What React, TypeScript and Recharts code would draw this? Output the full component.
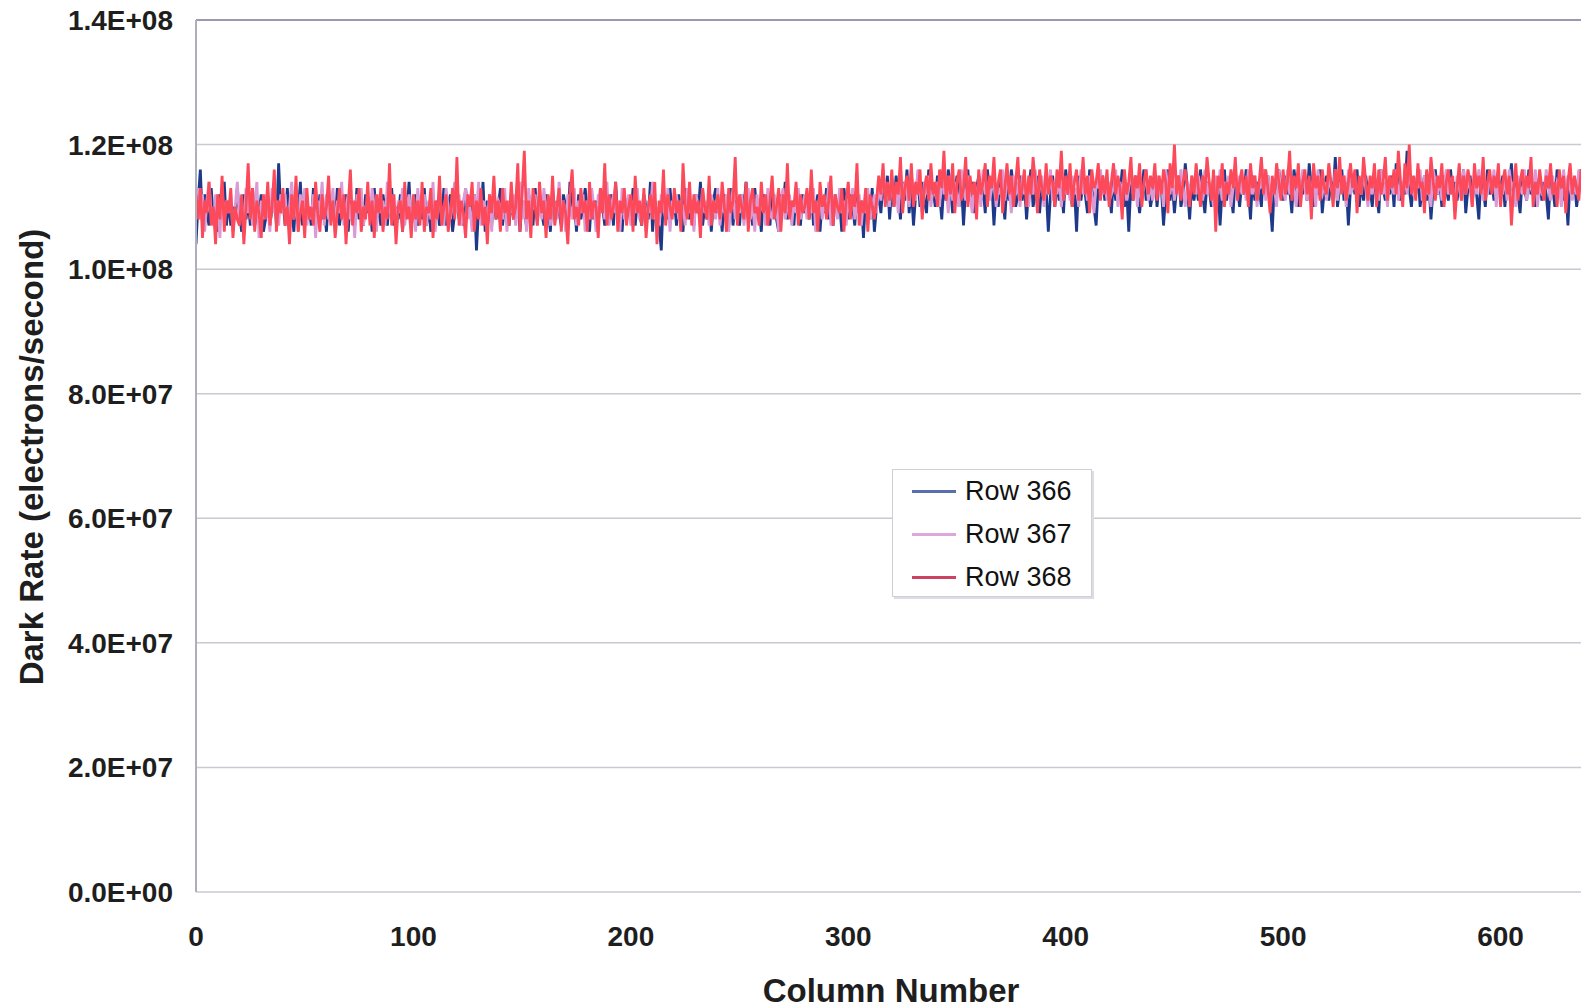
import React from "react";
import { LineChart, Line, XAxis, YAxis, CartesianGrid, ReferenceLine } from "recharts";

// column ticks and dark rate ticks
const columnTicks = [0, 100, 200, 300, 400, 500, 600];
const rateTicks = [0, 2e7, 4e7, 6e7, 8e7, 1e8, 1.2e8, 1.4e8];

// dark rate per column, in units of 1e6 electrons/second
const row366 = [
  104,111,116,107,112,109,107,113,108,110,106,112,109,114,107,111,107,110,108,113,
  109,106,112,108,111,107,113,107,110,109,112,106,108,111,107,110,113,107,117,109,
  111,107,113,108,110,106,112,109,114,107,111,108,110,107,113,107,109,112,108,110,
  106,112,109,111,107,113,107,110,108,112,106,111,109,107,113,108,110,107,112,109,
  111,106,113,108,110,107,112,109,107,111,113,107,110,108,112,106,111,109,114,107,
  109,112,107,111,108,113,107,110,106,112,109,111,107,108,113,107,110,112,106,109,
  112,108,110,107,113,109,111,107,112,103,110,108,114,106,111,109,107,112,108,110,
  113,107,111,109,107,112,108,110,113,106,111,109,107,112,110,107,113,108,111,109,
  107,112,110,106,113,108,111,109,107,112,110,107,114,109,111,106,112,108,110,113,
  109,106,112,108,111,107,113,110,107,111,109,112,107,114,108,110,106,112,109,111,
  108,113,107,111,109,107,112,110,108,114,106,111,109,107,103,112,110,108,113,109,
  111,107,112,109,106,113,110,108,111,107,112,109,114,107,110,108,112,106,111,113,
  109,111,106,112,110,108,113,107,111,109,107,112,110,114,108,111,107,113,109,110,
  106,112,109,111,107,113,110,108,106,112,110,114,108,111,109,107,113,110,107,112,
  109,111,108,113,107,110,112,106,111,109,113,108,110,107,112,109,111,106,113,110,
  108,112,110,107,113,109,111,105,112,110,108,113,106,110,112,109,114,111,115,108,
  113,110,115,112,108,114,111,116,109,113,107,112,115,110,114,111,109,116,112,113,
  110,115,112,108,114,111,116,113,109,112,115,110,114,107,113,116,111,114,109,113,
  115,111,113,109,116,112,114,107,113,110,115,112,108,114,111,116,113,110,112,115,
  111,114,108,113,116,110,112,115,109,114,111,113,106,112,115,110,114,111,113,109,
  116,112,114,110,113,106,115,111,114,112,109,116,113,110,107,114,112,115,111,113,
  113,109,115,111,114,112,116,110,113,106,114,111,115,112,109,113,116,111,114,110,
  112,115,110,114,113,107,112,116,111,114,109,113,115,110,112,117,113,108,114,111,
  114,111,116,112,109,114,113,110,115,112,114,107,113,116,111,114,112,109,115,113,
  110,114,112,116,113,108,115,111,114,113,110,116,112,115,111,106,114,112,116,113,
  111,115,112,113,109,116,113,110,114,112,115,111,117,113,110,114,112,116,109,113,
  115,111,114,112,118,110,113,116,111,114,107,113,115,112,116,110,114,111,115,112,
  113,110,115,112,109,116,113,111,114,112,115,110,117,113,111,114,112,119,113,110,
  114,112,116,110,113,115,111,114,108,113,116,112,114,110,115,113,111,116,112,114,
  111,114,112,116,109,113,115,111,114,112,108,115,113,110,116,112,114,111,113,115,
  112,115,110,114,113,117,111,114,112,109,115,113,111,116,112,114,110,113,115,111,
  114,112,108,115,113,110,116,112,114,111,113,107,115,112,114,110,113,116,111,113,
];

const row367 = [
  110,113,108,112,106,111,114,109,107,112,110,105,113,108,111,109,112,106,110,114,
  108,111,106,113,109,112,107,110,114,105,111,108,112,110,106,113,109,111,107,112,
  109,112,107,110,114,108,111,106,112,109,113,107,110,108,112,105,111,109,114,107,
  112,108,110,113,106,111,109,114,107,110,112,108,111,105,112,109,113,107,110,111,
  108,113,110,106,112,109,111,107,114,110,108,112,106,111,109,113,107,110,112,108,
  111,106,113,109,110,112,107,111,108,114,106,110,112,109,107,113,110,108,111,114,
  109,112,107,111,113,108,110,106,112,109,114,107,111,110,108,112,106,113,109,111,
  110,108,113,106,111,109,112,107,110,114,108,111,106,113,109,110,112,107,111,108,
  113,109,111,107,112,110,108,114,109,111,106,112,110,108,113,107,111,109,112,106,
  111,108,113,110,106,112,109,111,108,114,107,110,112,109,111,106,113,108,110,112,
  107,111,109,113,108,110,112,106,111,109,114,108,110,107,112,110,108,113,106,111,
  109,112,108,111,110,107,113,109,111,106,112,110,108,113,109,111,107,112,110,108,
  113,107,111,109,112,106,110,113,108,111,109,112,107,110,113,108,111,106,112,109,
  110,111,107,113,109,108,112,110,106,111,113,108,110,112,107,111,109,113,108,110,
  112,108,111,109,113,106,110,112,108,111,109,114,107,110,112,108,113,109,111,107,
  111,109,113,108,110,112,107,111,109,113,108,110,112,109,114,111,116,112,113,110,
  115,112,113,109,116,111,114,112,110,115,113,111,116,112,109,114,112,115,110,113,
  112,114,110,116,112,113,109,115,111,114,112,110,116,113,111,115,112,109,114,112,
  113,110,116,112,114,111,113,115,110,113,112,116,111,114,113,109,115,112,114,110,
  115,112,113,110,114,112,116,111,113,115,110,114,112,116,111,113,112,115,110,114,
  112,114,111,115,112,113,110,116,112,114,111,115,112,109,114,113,116,112,114,111,
  114,112,113,116,110,114,112,115,111,113,116,112,114,110,115,112,113,116,111,114,
  111,113,115,112,114,110,116,113,112,115,111,114,112,116,113,110,114,112,115,113,
  112,115,113,111,116,112,114,113,110,115,112,116,111,114,113,115,110,113,116,112,
  115,112,114,111,116,113,112,115,110,114,113,116,111,115,112,114,113,110,116,112,
  113,111,116,112,114,113,110,115,112,116,113,111,114,112,115,110,116,113,112,114,
  111,115,113,112,116,111,114,113,115,110,116,112,113,115,111,114,112,116,113,110,
  114,112,115,113,111,116,112,114,110,115,113,112,116,111,114,113,115,112,116,113,
  112,114,113,116,111,115,112,113,110,116,114,112,115,111,113,116,112,114,113,110,
  115,113,111,116,112,114,113,110,115,112,116,113,111,114,112,115,113,116,110,114,
  113,112,115,111,116,113,114,110,115,113,112,116,111,114,113,112,116,110,114,112,
  112,116,113,111,115,112,114,113,110,116,112,115,113,111,114,112,116,113,112,115,
];

const row368 = [
  112,108,113,105,111,109,114,107,110,104,112,108,115,106,111,109,113,105,110,108,
  107,112,104,110,117,108,113,106,111,109,105,112,108,114,107,110,116,106,111,109,
  113,107,110,104,112,108,115,106,109,111,105,113,108,110,107,114,109,106,112,108,
  110,115,107,111,105,109,113,108,112,104,110,116,107,111,109,113,106,110,108,114,
  107,111,105,112,109,113,106,110,108,117,107,112,104,110,111,106,114,108,110,105,
  112,108,111,107,114,106,110,109,113,105,111,108,115,107,110,112,106,109,113,108,
  118,107,111,109,105,112,110,114,106,111,108,113,107,110,104,112,109,115,108,111,
  106,113,109,111,107,114,108,110,117,106,112,119,108,111,105,113,110,107,114,109,
  111,105,112,108,115,107,110,113,106,111,109,104,112,116,108,110,107,113,109,111,
  106,114,108,111,110,105,113,109,117,107,112,108,110,114,106,111,109,113,107,110,
  112,106,115,109,111,107,113,105,110,112,108,114,104,111,109,116,107,112,110,108,
  113,109,111,106,117,110,108,114,107,112,109,111,105,113,110,108,115,107,111,109,
  112,108,114,110,106,113,109,111,118,107,112,110,108,114,106,111,113,109,110,107,
  114,109,112,107,111,115,108,110,113,106,112,109,117,108,111,110,114,107,112,109,
  110,113,108,116,109,111,106,114,110,112,108,111,115,107,112,110,109,113,106,111,
  114,108,112,110,117,107,111,109,113,106,112,110,108,111,115,112,117,110,114,111,
  116,110,114,112,118,109,113,115,111,117,110,114,112,116,108,113,115,111,117,112,
  114,110,116,113,119,111,115,112,117,109,114,116,111,113,118,110,115,112,114,108,
  116,112,114,117,110,115,113,118,111,114,116,109,113,117,112,115,110,114,118,111,
  113,116,110,115,112,118,114,109,116,113,111,117,112,115,114,110,116,113,119,111,
  115,112,117,110,114,116,111,113,118,112,115,109,116,113,114,117,111,115,112,116,
  110,114,117,112,115,113,108,116,112,114,118,111,115,113,117,110,114,116,112,115,
  113,117,111,115,112,116,114,109,117,113,120,112,115,111,114,116,113,110,115,112,
  117,113,110,115,112,118,114,111,116,106,115,113,117,110,114,112,116,113,118,111,
  114,116,112,115,110,117,113,115,111,114,118,112,116,113,109,115,112,117,114,111,
  116,112,114,119,111,115,113,117,110,114,116,112,115,108,117,113,115,111,116,113,
  112,117,114,110,116,113,118,112,115,111,114,117,113,116,109,115,112,118,114,111,
  115,113,117,110,116,112,114,118,111,115,113,116,112,119,114,110,117,113,120,112,
  115,111,117,113,114,109,116,112,118,114,111,115,113,117,110,114,116,112,115,108,
  113,117,111,115,112,116,114,110,117,113,115,112,118,111,114,116,112,115,113,117,
  110,114,116,112,115,107,113,117,111,114,116,112,115,113,118,110,114,112,116,113,
  111,115,113,117,112,114,110,116,113,115,109,114,117,112,115,113,111,116,113,114,
];

const seriesNames = ["Row 366", "Row 367", "Row 368"];
const seriesColors = ["#1d3a8a", "#d99ad6", "#fc4a5b"];
const legendColors = ["#5a6fae", "#dca8da", "#cc4463"];

const data = row368.map((_, i) => ({
  col: i,
  r366: row366[i] != null ? row366[i] * 1e6 : null,
  r367: row367[i] != null ? row367[i] * 1e6 : null,
  r368: row368[i] * 1e6,
}));

const FONT = "'Liberation Sans', Arial, Helvetica, sans-serif";

const fmtRate = (v: number) => {
  const [m, e] = v.toExponential(1).split("e");
  const n = parseInt(e, 10);
  return `${m}E${n < 0 ? "-" : "+"}${String(Math.abs(n)).padStart(2, "0")}`;
};

const RateTick = ({ x, y, payload }: any) => (
  <text x={x} y={y} dy={10} textAnchor="end" fontSize={28} fontWeight={700} fill="#1e1e1e" fontFamily={FONT}>
    {fmtRate(payload.value)}
  </text>
);

const ColumnTick = ({ x, y, payload }: any) => (
  <text x={x} y={y} dy={54} textAnchor="middle" fontSize={28} fontWeight={700} fill="#1e1e1e" fontFamily={FONT}>
    {payload.value}
  </text>
);

const LegendBox = () => (
  <div
    style={{
      position: "absolute",
      left: 892,
      top: 469,
      background: "#fff",
      border: "1px solid #cfcfd6",
      boxShadow: "2px 2px 0 #dcdce2",
      width: 200,
      height: 128,
      boxSizing: "border-box",
      fontFamily: FONT,
    }}
  >
    {seriesNames.map((name, i) => (
      <div key={name} style={{ display: "flex", alignItems: "center", height: 43 }}>
        <div style={{ marginLeft: 19, width: 44, height: 3, background: legendColors[i] }} />
        <span style={{ marginLeft: 9, fontSize: 27, color: "#111", lineHeight: 1 }}>{name}</span>
      </div>
    ))}
  </div>
);

export default function App() {
  return (
    <div style={{ position: "absolute", left: 0, top: 0, width: 1581, height: 1007, background: "#fff" }}>
      <LineChart width={1581} height={1007} data={data} margin={{ top: 20, right: 0, bottom: 55, left: 0 }}>
        <CartesianGrid horizontal vertical={false} stroke="#c9c9d2" strokeWidth={1.5} />
        <XAxis
          dataKey="col"
          type="number"
          domain={[0, 637]}
          allowDataOverflow
          ticks={columnTicks}
          tick={<ColumnTick />}
          tickLine={false}
          tickSize={0}
          tickMargin={0}
          height={60}
          axisLine={{ stroke: "#d6d6dc", strokeWidth: 1.5 }}
        />
        <YAxis
          type="number"
          domain={[0, 1.4e8]}
          ticks={rateTicks}
          tick={<RateTick />}
          tickLine={false}
          tickSize={0}
          tickMargin={23}
          width={196}
          axisLine={{ stroke: "#aeaebf", strokeWidth: 2 }}
        />
        <ReferenceLine y={1.4e8} stroke="#5c5c86" strokeWidth={1.2} />
        <Line dataKey="r366" name={seriesNames[0]} stroke={seriesColors[0]} strokeWidth={2.8} dot={false} isAnimationActive={false} />
        <Line dataKey="r367" name={seriesNames[1]} stroke={seriesColors[1]} strokeWidth={2.8} dot={false} isAnimationActive={false} />
        <Line dataKey="r368" name={seriesNames[2]} stroke={seriesColors[2]} strokeWidth={2.8} dot={false} isAnimationActive={false} />
      </LineChart>
      <LegendBox />
      <div
        style={{
          position: "absolute",
          left: 891,
          top: 990,
          transform: "translate(-50%, -50%)",
          fontFamily: FONT,
          fontWeight: 700,
          fontSize: 33,
          lineHeight: 1,
          color: "#1e1e1e",
          whiteSpace: "nowrap",
        }}
      >
        Column Number
      </div>
      <div
        style={{
          position: "absolute",
          left: 31,
          top: 457,
          transform: "translate(-50%, -50%) rotate(-90deg)",
          fontFamily: FONT,
          fontWeight: 700,
          fontSize: 33,
          lineHeight: 1,
          color: "#1e1e1e",
          whiteSpace: "nowrap",
        }}
      >
        Dark Rate (electrons/second)
      </div>
    </div>
  );
}
